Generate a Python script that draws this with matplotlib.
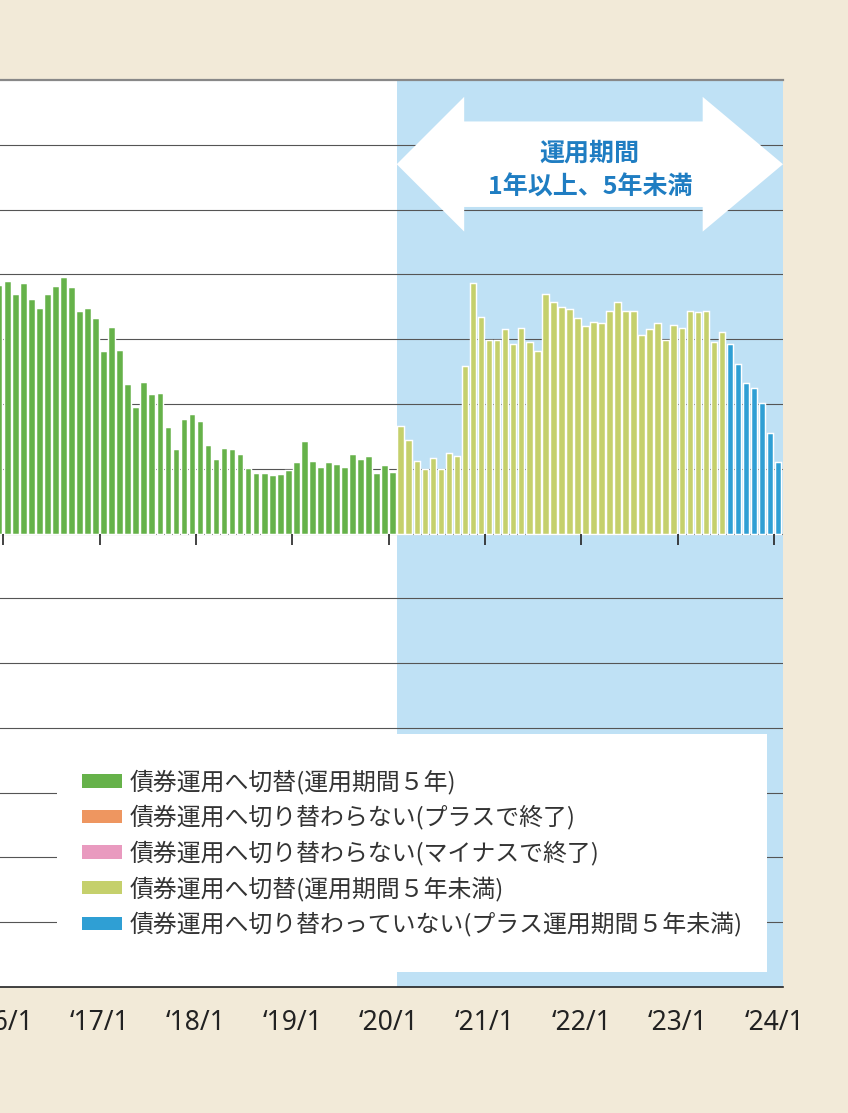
import matplotlib
matplotlib.use('Agg')
import matplotlib.pyplot as plt
from matplotlib.patches import Patch, Rectangle, Polygon
import numpy as np
import pandas as pd

plt.rcParams['font.family'] = ['Noto Sans CJK JP', 'DejaVu Sans']

# monthly values, Dec 2015 .. Jan 2024
months = pd.period_range('2015-12', '2024-01', freq='M')

# 債券運用へ切替(運用期間5年)  Dec 2015 - Jan 2020
green = [38.4, 38.9, 37.0, 38.6, 36.2, 34.8, 37.0, 38.2, 39.6, 38.1, 34.4, 34.8, 33.2,
         28.1, 31.8, 28.3, 23.0, 19.5, 23.4, 21.5, 21.7, 16.4, 13.0, 17.6, 18.5,
         17.3, 13.6, 11.5, 13.2, 13.0, 12.3, 10.1, 9.3, 9.3, 9.0, 9.2, 9.8,
         11.0, 14.3, 11.2, 10.3, 11.0, 10.8, 10.2, 12.2, 11.5, 11.9, 9.3, 10.5,
         9.5]
# 債券運用へ切替(運用期間5年未満)  Feb 2020 - Jun 2023
light_green = [16.6, 14.5, 11.2, 10.0, 11.6, 9.9, 12.5, 12.0, 25.9, 38.6, 33.4,
               29.8, 29.8, 31.6, 29.3, 31.7, 29.5, 28.1, 37.0, 35.8, 35.0, 34.7, 33.2,
               32.0, 32.7, 32.5, 34.4, 35.7, 34.4, 34.4, 30.6, 31.5, 32.5, 29.9, 32.2,
               31.7, 34.4, 34.2, 34.4, 29.5, 31.1]
# 債券運用へ切り替わっていない(プラス運用期間5年未満)  Jul 2023 - Jan 2024
blue = [29.3, 26.2, 23.3, 22.4, 20.2, 15.5, 11.1]

labels = ['債券運用へ切替(運用期間５年)',
          '債券運用へ切り替わらない(プラスで終了)',
          '債券運用へ切り替わらない(マイナスで終了)',
          '債券運用へ切替(運用期間５年未満)',
          '債券運用へ切り替わっていない(プラス運用期間５年未満)']
colors = ['#66b24a', '#ee9660', '#e99abf', '#c5d06c', '#2f9fd4']

tick_years = list(range(2016, 2025))
tick_labels = ['\u2018%02d/1' % (y % 100) for y in tick_years]

# month index, Jan 2016 = 0
x = np.array([(p.year - 2016) * 12 + p.month - 1 for p in months])
n1, n2 = len(green), len(light_green)
x_green, x_lg, x_blue = x[:n1], x[n1:n1 + n2], x[n1 + n2:]

bg = '#f2ead8'
fig = plt.figure(figsize=(8.48, 11.13), dpi=100, facecolor=bg)
ax = fig.add_axes([0, 1 - 987 / 1113, 783 / 848, 907 / 1113])
ax.set_facecolor('white')
ax.set_xlim(-0.9, 96.6)
ax.set_ylim(-70, 70)

# shaded period
ax.axvspan(x_lg[0] - 0.5, 96.6, color='#bfe1f5', zorder=0, lw=0)

for yv in range(-60, 70, 10):
    ax.axhline(yv, color='#555555', lw=0.8, zorder=1)

bw = 0.82
kw = dict(width=bw, edgecolor='white', lw=1.05, zorder=3)
ax.bar(x_green, green, color=colors[0], **kw)
ax.bar(x_lg, light_green, color=colors[3], **kw)
ax.bar(x_blue, blue, color=colors[4], **kw)

# double arrow over the shaded period
x0, x1 = x_lg[0] - 0.5, 96.6
yc, sh, hh = 57.0, 6.6, 10.4
arrow = Polygon([(x0, yc), (x0 + 8.4, yc + hh), (x0 + 8.4, yc + sh),
                 (x1 - 10, yc + sh), (x1 - 10, yc + hh), (x1, yc),
                 (x1 - 10, yc - hh), (x1 - 10, yc - sh), (x0 + 8.4, yc - sh),
                 (x0 + 8.4, yc - hh)], closed=True, facecolor='white',
                edgecolor='none', zorder=4)
ax.add_patch(arrow)
xm = (x0 + x1) / 2
ax.text(xm, 58.6, '運用期間', ha='center', va='center', fontsize=18,
        fontweight='bold', color='#1f7dc2', zorder=5)
ax.text(xm, 53.3, '1年以上、5年未満', ha='center', va='center', fontsize=18,
        fontweight='bold', color='#1f7dc2', zorder=5)

# spines
for s in ['left', 'right']:
    ax.spines[s].set_visible(False)
ax.spines['top'].set_color('#888888')
ax.spines['top'].set_linewidth(1.6)
ax.spines['bottom'].set_color('#222222')
ax.spines['bottom'].set_linewidth(1.2)
ax.set_yticks([])

tick_pos = [(y - 2016) * 12 - 0.5 for y in tick_years]
ax.set_xticks(tick_pos, tick_labels, fontsize=19, family=['Noto Sans', 'DejaVu Sans'],
              color='#222222')
ax.tick_params(axis='x', length=0, pad=16)

# tick marks hanging below the zero line
ax.vlines(tick_pos, -1.7, 0, color='#222222', lw=1.2, zorder=4)

# legend box
box = Rectangle((57 / 848, 1 - 972 / 1113), 710 / 848, 238 / 1113,
                transform=fig.transFigure, facecolor='white', edgecolor='none', zorder=4)
ax.add_patch(box)
handles = [Patch(facecolor=c, edgecolor='none') for c in colors]
leg = ax.legend(handles, labels, loc='upper left',
                bbox_to_anchor=(72 / 848, 1 - 760 / 1113), bbox_transform=fig.transFigure,
                frameon=False, fontsize=17.2, handlelength=1.68, handleheight=0.5,
                handletextpad=0.35, labelspacing=0.45, borderaxespad=0)
leg.set_zorder(6)
for t in leg.get_texts():
    t.set_color('#333333')

fig.savefig('out.png', dpi=100, facecolor=bg)
